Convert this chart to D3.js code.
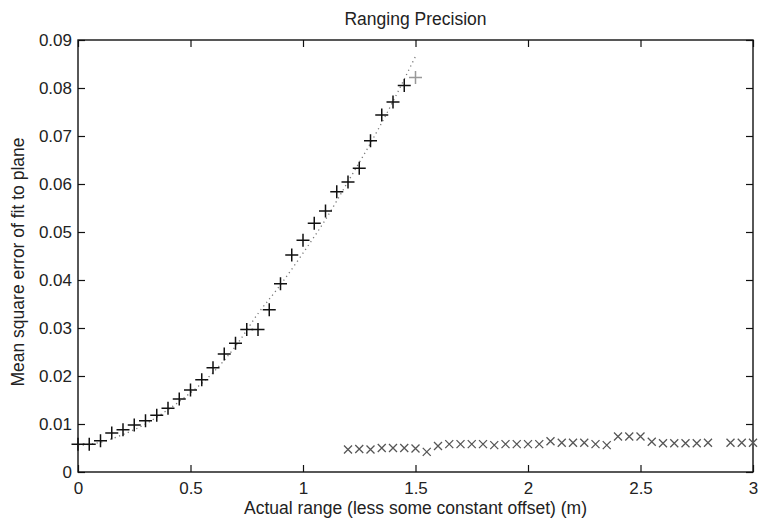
<!DOCTYPE html>
<html>
<head>
<meta charset="utf-8">
<script src="https://d3js.org/d3.v7.min.js"></script>
<style>
  body { margin: 0; background: #fff; }
  text { font-family: "Liberation Sans", Arial, sans-serif; fill: #222; }
</style>
</head>
<body>
<script>
/* ***************************************************************** */
/* DATA ************************************************************ */
// '+' series : mean square error, 0 .. 1.45 m
var plusX = [0, 0.05, 0.10, 0.15, 0.20, 0.25, 0.30, 0.35, 0.40, 0.45, 0.50,
             0.55, 0.60, 0.65, 0.70, 0.75, 0.80, 0.85, 0.90, 0.95, 1.00,
             1.05, 1.10, 1.15, 1.20, 1.25, 1.30, 1.35, 1.40, 1.45];
var plusY = [0.0058, 0.0058, 0.0065, 0.0081, 0.0088, 0.0098, 0.0107, 0.0118, 0.0133, 0.0152, 0.0171,
             0.0192, 0.0217, 0.0246, 0.0268, 0.0297, 0.0297, 0.0338, 0.0392, 0.0452, 0.0483,
             0.0518, 0.0544, 0.0584, 0.0604, 0.0633, 0.0690, 0.0744, 0.0771, 0.0805];
// the last (grey) '+'
var greyPlus = [1.50, 0.0822];

// dotted fit curve
var fitX = [0, 0.1, 0.2, 0.3, 0.4, 0.5, 0.6, 0.7, 0.8, 0.9, 1.0, 1.1, 1.2, 1.3, 1.4, 1.5];
var fitY = [0.0055, 0.0062, 0.0078, 0.0100, 0.0130, 0.0165, 0.0207, 0.0262, 0.0330, 0.0390,
            0.0456, 0.0526, 0.0605, 0.0685, 0.0772, 0.0866];

// 'x' series : 1.2 .. 3 m (no point at 2.85)
var crossX = [1.20, 1.25, 1.30, 1.35, 1.40, 1.45, 1.50, 1.55, 1.60, 1.65, 1.70, 1.75,
              1.80, 1.85, 1.90, 1.95, 2.00, 2.05, 2.10, 2.15, 2.20, 2.25, 2.30, 2.35,
              2.40, 2.45, 2.50, 2.55, 2.60, 2.65, 2.70, 2.75, 2.80, 2.90, 2.95, 3.00];
var crossY = [0.0047, 0.0048, 0.0047, 0.0050, 0.0050, 0.0050, 0.0049, 0.0042, 0.0054, 0.0058, 0.0058, 0.0058,
              0.0058, 0.0056, 0.0058, 0.0058, 0.0058, 0.0058, 0.0064, 0.0061, 0.0061, 0.0061, 0.0058, 0.0056,
              0.0074, 0.0074, 0.0074, 0.0063, 0.0060, 0.0060, 0.0060, 0.0060, 0.0061, 0.0061, 0.0061, 0.0061];

var xTicks = [0, 0.5, 1, 1.5, 2, 2.5, 3];
var yTicks = [0, 0.01, 0.02, 0.03, 0.04, 0.05, 0.06, 0.07, 0.08, 0.09];
var xTickLabels = ["0", "0.5", "1", "1.5", "2", "2.5", "3"];
var yTickLabels = ["0", "0.01", "0.02", "0.03", "0.04", "0.05", "0.06", "0.07", "0.08", "0.09"];

var TITLE  = "Ranging Precision",
    XLABEL = "Actual range (less some constant offset) (m)",
    YLABEL = "Mean square error of fit to plane";

/* ***************************************************************** */
/* SVG INIT ******************************************************** */
var width = 758, height = 520;
var margin = {top: 40, right: 5, bottom: 48, left: 78};
var W = width - margin.left - margin.right,
    H = height - margin.top - margin.bottom;

var svg = d3.select("body").append("svg")
    .attr("width", width)
    .attr("height", height);

var x = d3.scaleLinear().domain([0, 3]).range([0, W]);
var y = d3.scaleLinear().domain([0, 0.09]).range([H, 0]);

var g = svg.append("g")
    .attr("transform", "translate(" + margin.left + "," + margin.top + ")");

/* ***************************************************************** */
/* AXES (matlab box, ticks inside on all four sides) *************** */
var tk = 7;
var styleAxis = function(sel) {
  sel.select(".domain").remove();
  sel.selectAll(".tick line").attr("stroke", "#111").attr("stroke-width", 1.2);
  sel.selectAll("text").style("font-size", "17px").attr("fill", "#222");
};

g.append("g")
    .attr("transform", "translate(0," + H + ")")
    .call(d3.axisBottom(x).tickValues(xTicks)
      .tickFormat(function(d, i) { return xTickLabels[i]; })
      .tickSizeInner(-tk).tickSizeOuter(0).tickPadding(10))
    .call(styleAxis);

g.append("g")
    .call(d3.axisLeft(y).tickValues(yTicks)
      .tickFormat(function(d, i) { return yTickLabels[i]; })
      .tickSizeInner(-tk).tickSizeOuter(0).tickPadding(6))
    .call(styleAxis);

g.append("g")
    .call(d3.axisTop(x).tickValues(xTicks).tickFormat("")
      .tickSizeInner(-tk).tickSizeOuter(0))
    .call(styleAxis);

g.append("g")
    .attr("transform", "translate(" + W + ",0)")
    .call(d3.axisRight(y).tickValues(yTicks).tickFormat("")
      .tickSizeInner(-tk).tickSizeOuter(0))
    .call(styleAxis);

g.append("rect")
    .attr("width", W).attr("height", H)
    .attr("fill", "none")
    .attr("stroke", "#111")
    .attr("stroke-width", 1.4);

/* ***************************************************************** */
/* DATA MARKS ****************************************************** */
var fit = d3.range(fitX.length).map(function(i) { return [fitX[i], fitY[i]]; });
g.append("path")
    .datum(fit)
    .attr("d", d3.line()
      .x(function(d) { return x(d[0]); })
      .y(function(d) { return y(d[1]); })
      .curve(d3.curveMonotoneX))
    .attr("fill", "none")
    .attr("stroke", "#777")
    .attr("stroke-width", 1.3)
    .attr("stroke-dasharray", "1.2,3.5");

var plusPath = function(s) {
  return "M" + (-s) + ",0H" + s + "M0," + (-s) + "V" + s;
};
var crossPath = function(s) {
  return "M" + (-s) + "," + (-s) + "L" + s + "," + s + "M" + (-s) + "," + s + "L" + s + "," + (-s);
};

var plus = d3.range(plusX.length).map(function(i) { return [plusX[i], plusY[i]]; });
g.append("g").selectAll("path")
    .data(plus)
  .enter().append("path")
    .attr("transform", function(d) { return "translate(" + x(d[0]) + "," + y(d[1]) + ")"; })
    .attr("d", plusPath(6.5))
    .attr("stroke", "#111")
    .attr("stroke-width", 1.5)
    .attr("fill", "none");

g.append("path")
    .attr("transform", "translate(" + x(greyPlus[0]) + "," + y(greyPlus[1]) + ")")
    .attr("d", plusPath(6.5))
    .attr("stroke", "#999")
    .attr("stroke-width", 1.5)
    .attr("fill", "none");

var cross = d3.range(crossX.length).map(function(i) { return [crossX[i], crossY[i]]; });
g.append("g").selectAll("path")
    .data(cross)
  .enter().append("path")
    .attr("transform", function(d) { return "translate(" + x(d[0]) + "," + y(d[1]) + ")"; })
    .attr("d", crossPath(4))
    .attr("stroke", "#555")
    .attr("stroke-width", 1.3)
    .attr("fill", "none");

/* ***************************************************************** */
/* TITLES ********************************************************** */
svg.append("text")
    .attr("x", margin.left + W / 2).attr("y", 25)
    .attr("text-anchor", "middle")
    .style("font-size", "17.5px")
    .text(TITLE);

svg.append("text")
    .attr("x", margin.left + W / 2).attr("y", 514)
    .attr("text-anchor", "middle")
    .style("font-size", "17.5px")
    .text(XLABEL);

svg.append("text")
    .attr("transform", "translate(24," + (margin.top + H / 2 + 6) + ") rotate(-90)")
    .attr("text-anchor", "middle")
    .style("font-size", "17.5px")
    .text(YLABEL);
</script>
</body>
</html>
